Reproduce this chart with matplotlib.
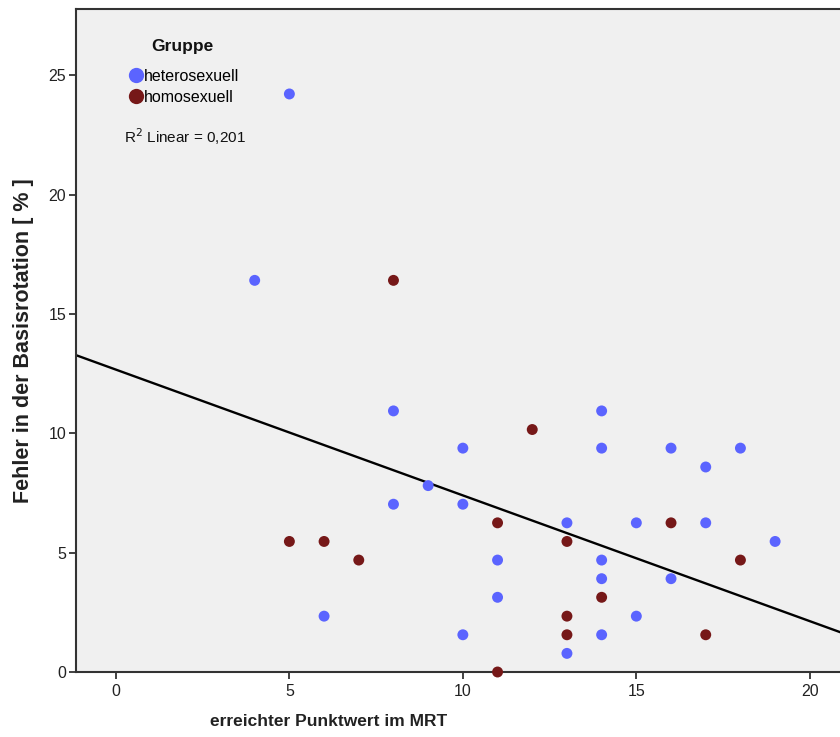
import numpy as np
import matplotlib
matplotlib.use("Agg")
import matplotlib.pyplot as plt
from matplotlib.lines import Line2D

# MRT score vs. error in base rotation (%), by group
hetero_x = [5, 4, 8, 8, 9, 10, 10, 6, 10, 11, 11, 13, 13, 14, 14, 14, 14, 14, 15, 15, 16, 16, 17, 17, 18, 19]
hetero_y = [24.22, 16.41, 10.94, 7.03, 7.81, 9.38, 7.03, 2.34, 1.56, 4.69, 3.13, 6.25, 0.78, 10.94, 9.38,
            4.69, 3.91, 1.56, 6.25, 2.34, 9.38, 3.91, 8.59, 6.25, 9.38, 5.47]
homo_x = [8, 12, 5, 6, 7, 11, 11, 13, 13, 13, 14, 16, 17, 18]
homo_y = [16.41, 10.16, 5.47, 5.47, 4.69, 6.25, 0.00, 5.47, 2.34, 1.56, 3.13, 6.25, 1.56, 4.69]

# total linear fit line (R² = 0,201)
fit_intercept = 12.67
fit_slope = -0.527

group_labels = ["heterosexuell", "homosexuell"]
x_ticks = [0, 5, 10, 15, 20]
y_ticks = [0, 5, 10, 15, 20, 25]
r2_text = "R$^2$ Linear = 0,201"

blue = "#5b64ff"
darkred = "#761818"

plt.rcParams["font.family"] = ["Liberation Sans", "DejaVu Sans"]

fig = plt.figure(figsize=(8.4, 7.37), dpi=100)
ax = fig.add_axes([76 / 840, 1 - 672 / 737, 1 - 76 / 840, (672 - 9) / 737])
ax.set_facecolor("#f0f0f0")

ax.set_xlim(-1.15, 20.87)
ax.set_ylim(0, 27.78)

xx = np.array(ax.get_xlim())
ax.plot(xx, fit_intercept + fit_slope * xx, color="black", lw=1.7, zorder=2)

ax.scatter(hetero_x, hetero_y, s=62, color=blue, edgecolors="none", zorder=3, clip_on=False)
ax.scatter(homo_x, homo_y, s=62, color=darkred, edgecolors="none", zorder=3, clip_on=False)

for side in ["left", "bottom", "top"]:
    ax.spines[side].set_linewidth(1.5)
    ax.spines[side].set_color("#333333")
ax.spines["right"].set_visible(False)

ax.set_xticks(x_ticks)
ax.set_yticks(y_ticks)
ax.tick_params(axis="both", direction="out", length=5, width=1.3, color="#333333",
               labelsize=11.5, labelcolor="#222222", pad=2)
ax.tick_params(axis="x", pad=4)

ax.set_xlabel("erreichter Punktwert im MRT",
              family=["Liberation Sans Narrow", "DejaVu Sans Condensed", "Liberation Sans"],
              weight="bold", size=12.5, color="#222222")
ax.xaxis.set_label_coords((329 - 76) / 764, -(714 - 672) / 663)
ax.set_ylabel("Fehler in der Basisrotation [ % ]", family=["Liberation Sans", "DejaVu Sans"],
              weight="bold", size=15.5, color="#222222")
ax.yaxis.set_label_coords((34 - 76) / 764, 0.5)

# group legend: title placed separately above the entries
handles = [Line2D([], [], marker="o", ls="none", markersize=11, color=blue, markeredgewidth=0),
           Line2D([], [], marker="o", ls="none", markersize=11, color=darkred, markeredgewidth=0)]
leg = ax.legend(handles, group_labels, loc="upper left",
                bbox_to_anchor=(52 / 764, 1 - 60 / 663), frameon=False,
                fontsize=11.5, handletextpad=0.0, handlelength=1.0,
                labelspacing=0.35, borderaxespad=0, borderpad=0)
ax.annotate("Gruppe", xy=(182, 737 - 46), xycoords="figure pixels", fontsize=12.5,
            weight="bold", ha="center", va="center", color="#111111")

ax.annotate(r2_text, xy=(124, 737 - 137), xycoords="figure pixels", fontsize=11,
            va="center", ha="left", color="#111111")

fig.savefig("out.png", dpi=100, facecolor="white")
